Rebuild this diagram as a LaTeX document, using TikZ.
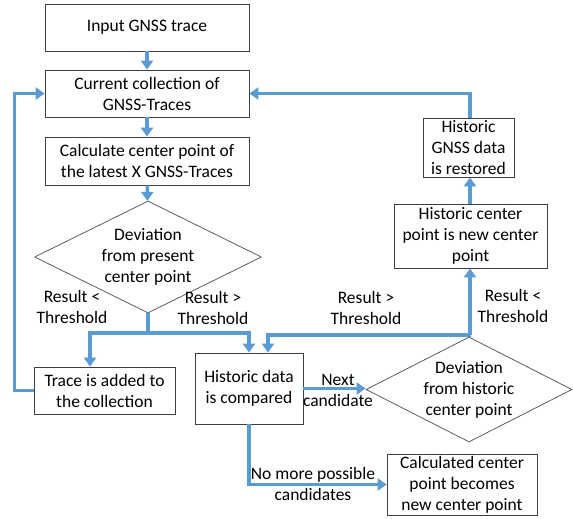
\documentclass[tikz,border=0pt]{standalone}
\usepackage{fontspec}
\setmainfont{Carlito}
\usetikzlibrary{shapes.geometric, arrows.meta, positioning, calc}
\definecolor{flowblue}{RGB}{91,155,213}
\definecolor{boxline}{RGB}{64,64,64}

\begin{document}
\begin{tikzpicture}[
  x=1pt, y=-1pt,
  every node/.style={font=\fontsize{17.5}{21}\selectfont},
  procbox/.style={rectangle, draw=boxline, line width=0.8pt, align=center, inner sep=2pt},
  decision/.style={diamond, draw=boxline!85, line width=0.8pt, align=center,
                   inner sep=0pt, shape aspect=2},
  lnk/.style={draw=flowblue, line width=3.5pt},
  arr/.style={lnk, -{Triangle[width=12pt,length=9pt]}},
  lbl/.style={align=center}
]
\useasboundingbox (0,0) rectangle (573,519);

%% --- Main column (left) ---
\node[procbox, minimum width=204pt, minimum height=47pt] (input) at (147,27.5) {Input GNSS trace};
\node[procbox, minimum width=204pt, minimum height=47pt] (coll)  at (147,93.5) {Current collection of\\GNSS-Traces};
\node[procbox, minimum width=204pt, minimum height=48pt] (calc)  at (147,161)  {Calculate center point of\\the latest X GNSS-Traces};
\node[decision, minimum width=227pt, minimum height=112pt] (dev1) at (148,257) {Deviation\\from present\\center point};
\node[procbox, minimum width=141pt, minimum height=47pt] (added) at (104.5,390.5) {Trace is added to\\the collection};

%% --- Historic comparison (bottom / right) ---
\node[procbox, minimum width=108pt, minimum height=71pt] (comp)  at (249,388.5) {Historic data\\is compared};
\node[decision, minimum width=206pt, minimum height=105pt] (dev2) at (469,389.5) {Deviation\\from historic\\center point};
\node[procbox, minimum width=150pt, minimum height=59pt] (final) at (462,484.5) {Calculated center\\point becomes\\new center point};
\node[procbox, minimum width=153pt, minimum height=64pt] (hcenter) at (470.5,236) {Historic center\\point is new center\\point};
\node[procbox, minimum width=91pt, minimum height=59pt]  (restored) at (468.5,147.5) {Historic\\GNSS data\\is restored};

\coordinate (split)  at (148,333);
\coordinate (hsplit) at (470,335);

\draw[arr] (input) -- (coll);
\draw[arr] (coll) -- (calc);
\draw[arr] (calc) -- (dev1);
\draw[arr] (dev1.south) -- (split) -| ([xshift=-14.5pt]added.north);
\draw[arr] (split) -| (comp.north);
\draw[arr] (added.west) -- ++(-19,0) |- (coll.west);

\draw[arr] (comp.east) -- (comp.east -| dev2.west);
\draw[arr] (comp.south) |- (final.west);
\draw[lnk] (dev2.north) -- (hsplit);
\draw[arr] (hsplit) -- (hsplit |- hcenter.south);
\draw[arr] (hsplit) -| ([xshift=19pt]comp.north);
\draw[arr] (hcenter.north -| hsplit) -- (hsplit |- restored.south);
\draw[arr] (restored.north -| hsplit) |- (coll.east);

%% --- Labels ---
\node[lbl] (lt1)  at (72,307)  {Result <\\Threshold};
\node[lbl] (gt1)  at (213,308) {Result >\\Threshold};
\node[lbl] (gt2)  at (366,308) {Result >\\Threshold};
\node[lbl] (lt2)  at (513,306) {Result <\\Threshold};
\node[lbl] (next) at (338,390) {Next\\candidate};
\node[lbl] (none) at (313,484) {No more possible\\candidates};

\end{tikzpicture}
\end{document}
